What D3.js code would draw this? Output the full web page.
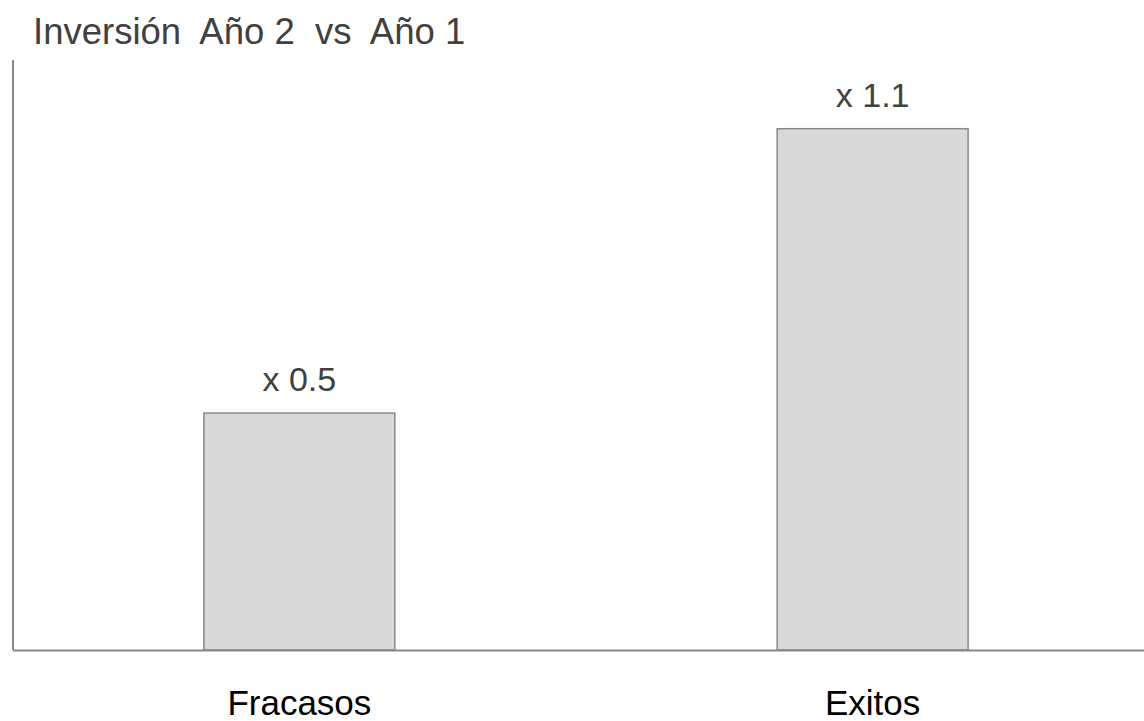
<!DOCTYPE html>
<html>
<head>
<meta charset="utf-8">
<script src="https://cdn.jsdelivr.net/npm/d3@7"></script>
<style>
  html, body { margin: 0; padding: 0; background: #fff; }
  svg { display: block; font-family: "Liberation Sans", Arial, sans-serif; }
</style>
</head>
<body>
<svg id="chart" width="1144" height="721"></svg>
<script>
// Data
const categories = ["Fracasos", "Exitos"];
const values = [0.5, 1.1];
const valueLabels = ["x 0.5", "x 1.1"];
const title = "Inversión  Año 2  vs  Año 1";

const svg = d3.select("#chart");

const plotLeft = 13, plotRight = 1159, plotTop = 60, plotBottom = 650;

const x = d3.scaleBand()
  .domain(categories)
  .range([plotLeft, plotRight])
  .paddingInner(0.667)
  .paddingOuter(0.333);

const y = d3.scaleLinear()
  .domain([0, 1.245])
  .range([plotBottom, plotTop]);

// Title
svg.append("text")
  .attr("x", 33)
  .attr("y", 44)
  .attr("fill", "#404040")
  .attr("font-size", 36.5)
  .style("white-space", "pre")
  .text(title);

// Bars
svg.append("g").selectAll("rect")
  .data(categories)
  .join("rect")
  .attr("x", d => x(d))
  .attr("y", (d, i) => y(values[i]))
  .attr("width", x.bandwidth())
  .attr("height", (d, i) => y(0) - y(values[i]))
  .attr("fill", "#d9d9d9")
  .attr("stroke", "#888")
  .attr("stroke-width", 1.5);

// Value labels
svg.append("g").selectAll("text")
  .data(categories)
  .join("text")
  .attr("x", d => x(d) + x.bandwidth() / 2)
  .attr("y", (d, i) => y(values[i]) - 22)
  .attr("text-anchor", "middle")
  .attr("fill", "#404040")
  .attr("font-size", 34)
  .text((d, i) => valueLabels[i]);

// Axes
const xAxis = d3.axisBottom(x).tickSize(0).tickPadding(40);
const gx = svg.append("g")
  .attr("transform", `translate(0,${plotBottom})`)
  .call(xAxis);
gx.select(".domain").attr("d", `M${plotLeft},0.5H1144`).attr("stroke", "#888").attr("stroke-width", 2);
gx.selectAll(".tick text")
  .attr("font-size", 35)
  .attr("fill", "#000")
  .attr("font-family", "Liberation Sans, Arial, sans-serif");

const yAxis = d3.axisLeft(y).tickValues([]).tickSize(0);
const gy = svg.append("g")
  .attr("transform", `translate(${plotLeft},0)`)
  .call(yAxis);
gy.select(".domain").attr("d", `M0,${plotTop}V${plotBottom}`).attr("stroke", "#888").attr("stroke-width", 2);
</script>
</body>
</html>
